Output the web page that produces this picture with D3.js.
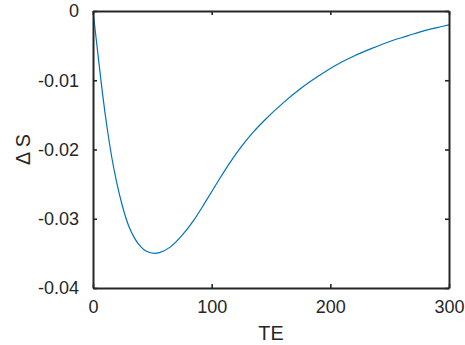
<!DOCTYPE html>
<html>
<head>
<meta charset="utf-8">
<script src="https://cdn.jsdelivr.net/npm/d3@7"></script>
<style>
  body { margin: 0; background: #fff; }
  text { font-family: "Liberation Sans", Arial, sans-serif; fill: #262626; }
</style>
</head>
<body>
<div id="chart"></div>
<script>
// values
const te = [0, 4, 8, 12, 16, 20, 25, 30, 35, 40, 45, 52, 56, 65, 75, 85, 95, 105, 115, 125,
  135, 145, 160, 175, 190, 205, 220, 235, 250, 265, 280, 295, 300];
const deltaS = [0, -0.0060, -0.0119, -0.0170, -0.0213, -0.0248, -0.0283, -0.0310, -0.0328, -0.0340,
  -0.0347, -0.0350, -0.0349, -0.0341, -0.0324, -0.0302, -0.0275, -0.0247, -0.0220, -0.0196,
  -0.0175, -0.0157, -0.0133, -0.0112, -0.0094, -0.0078, -0.0065, -0.0054, -0.0044, -0.0036,
  -0.0028, -0.0022, -0.0020];
const xTicks = [0, 100, 200, 300];
const yTicks = [0, -0.01, -0.02, -0.03, -0.04];

const W = 465, H = 345;
const margin = {top: 11, right: 16, bottom: 57, left: 93};
const width = W - margin.left - margin.right;
const height = H - margin.top - margin.bottom;

const svg = d3.select('#chart')
  .append('svg')
    .attr('width', W)
    .attr('height', H)
  .append('g')
    .attr('transform', 'translate(' + margin.left + ',' + margin.top + ')');

const x = d3.scaleLinear().domain([0, 300]).range([0, width]);
const y = d3.scaleLinear().domain([-0.04, 0]).range([height, 0]);

// line
const line = d3.line()
  .x((d, i) => x(te[i]))
  .y(d => y(d))
  .curve(d3.curveMonotoneX);

svg.append('path')
  .datum(deltaS)
  .attr('d', line)
  .attr('fill', 'none')
  .attr('stroke', '#0072BD')
  .attr('stroke-width', 1.2);

// axes, ticks pointing inward, box on
const tickLen = 4;
const fmtY = d => d === 0 ? '0' : d3.format('.2f')(d).replace('−', '-');

svg.append('g')
  .attr('transform', 'translate(0,' + height + ')')
  .call(d3.axisBottom(x).tickValues(xTicks).tickSizeInner(-tickLen).tickSizeOuter(0).tickPadding(12))
  .call(g => g.selectAll('text').attr('font-size', 18).attr('dy', '0.71em'));

svg.append('g')
  .call(d3.axisTop(x).tickValues(xTicks).tickSizeInner(-tickLen).tickSizeOuter(0).tickFormat(''));

svg.append('g')
  .call(d3.axisLeft(y).tickValues(yTicks).tickSizeInner(-tickLen).tickSizeOuter(0).tickPadding(14).tickFormat(fmtY))
  .call(g => g.selectAll('text').attr('font-size', 18));

svg.append('g')
  .attr('transform', 'translate(' + width + ',0)')
  .call(d3.axisRight(y).tickValues(yTicks).tickSizeInner(-tickLen).tickSizeOuter(0).tickFormat(''));

svg.selectAll('.domain, .tick line')
  .attr('stroke', '#262626')
  .attr('stroke-width', 2);

svg.selectAll('.tick line').attr('stroke-width', 1.6);

svg.selectAll('.tick text').attr('fill', '#262626').attr('font-family', '"Liberation Sans", Arial, sans-serif');

// labels
svg.append('text')
  .attr('x', width / 2)
  .attr('y', height + 52)
  .attr('text-anchor', 'middle')
  .attr('font-size', 19.8)
  .text('TE');

svg.append('text')
  .attr('transform', 'translate(' + (-63) + ',' + (height / 2) + ') rotate(-90)')
  .attr('text-anchor', 'middle')
  .attr('font-size', 19.8)
  .text('Δ S');
</script>
</body>
</html>
